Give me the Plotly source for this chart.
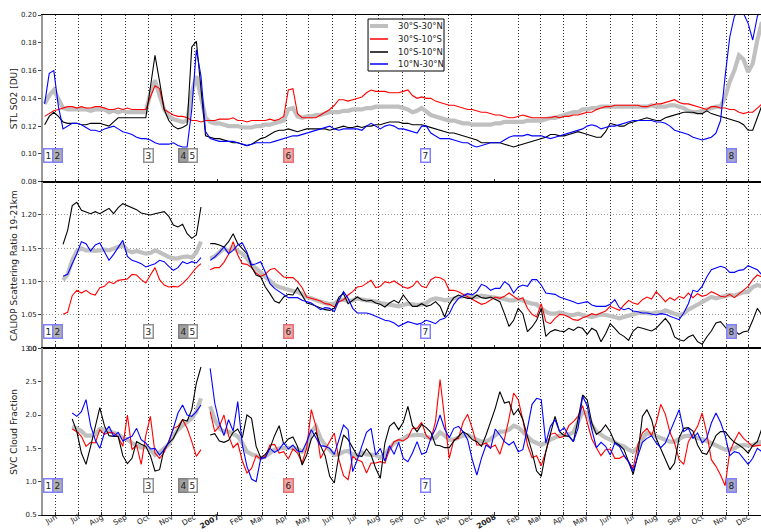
import pandas as pd
import plotly.graph_objects as go
from plotly.subplots import make_subplots

# Shared sampling dates (about 6-day steps) for every series
dates = pd.date_range("2006-05-11 09:15", periods=158, freq="8731min")

series_names = ["30°S-30°N", "30°S-10°S", "10°S-10°N", "10°N-30°N"]
series_colors = ["#c0c0c0", "#ff0000", "#000000", "#0000ff"]
series_widths = [4.2, 1.1, 1.1, 1.1]

# ---- STL SO2 [DU] ----
so2_all = [None, .136, .142, .146, .139, .133, .132, .132, .132, .132,
           .132, .131, .132, .132, .132, .130, .131, .130, .131, .130,
           .130, .130, .130, .130, .144, .153, .142, .132, .127, .125,
           .124, .123, .124, .144, .156, .141, .126, .123, .122, .122,
           .121, .120, .120, .120, .119, .119, .119, .120, .120, .121,
           .121, .122, .123, .124, .132, .133, .127, .126, .127, .127,
           .128, .128, .129, .130, .130, .130, .131, .131, .132, .132,
           .132, .133, .133, .134, .134, .134, .134, .134, .134, .133,
           .132, .130, .131, .133, .130, .128, .127, .126, .125, .124,
           .124, .123, .122, .122, .121, .121, .121, .121, .121, .122,
           .122, .123, .123, .123, .123, .123, .124, .124, .124, .124,
           .125, .126, .126, .127, .128, .129, .130, .130, .132, .132,
           .133, .133, .134, .134, .134, .134, .134, .134, .134, .134,
           .134, .134, .134, .135, .134, .134, .134, .135, .135, .134,
           .133, .131, .130, .130, .131, .132, .133, .134, .134, .141,
           .152, .160, .171, .168, .159, .165, .182, .195]
so2_south = [None, .127, .129, .131, .132, .133, .134, .134, .133, .134,
             .133, .133, .134, .134, .133, .132, .132, .133, .132, .133,
             .132, .132, .132, .132, .141, .149, .147, .132, .130, .128,
             .127, .127, .126, .124, .124, .123, .124, .124, .124, .125,
             .125, .125, .126, .124, .124, .123, .124, .124, .124, .124,
             .125, .124, .125, .127, .146, .147, .129, .126, .126, .126,
             .126, .128, .130, .132, .135, .139, .139, .138, .139, .140,
             .141, .144, .146, .145, .145, .145, .144, .144, .144, .145,
             .146, .142, .140, .141, .140, .140, .138, .137, .136, .135,
             .135, .134, .133, .132, .132, .131, .130, .130, .129, .128,
             .128, .127, .126, .126, .127, .128, .127, .126, .126, .126,
             .126, .126, .127, .126, .127, .127, .128, .128, .129, .130,
             .130, .132, .133, .134, .134, .135, .135, .135, .135, .135,
             .135, .134, .134, .135, .136, .136, .137, .138, .139, .137,
             .136, .136, .135, .134, .133, .132, .134, .134, .133, .133,
             .132, .132, .130, .129, .130, .130, .133, .136]
so2_equator = [None, .121, .127, .130, .127, .123, .122, .122, .122, .121,
               .121, .122, .122, .122, .121, .120, .123, .126, .126, .126,
               .126, .126, .126, .126, .148, .171, .152, .132, .124, .120,
               .118, .119, .121, .177, .181, .148, .113, .112, .111, .111,
               .110, .109, .108, .108, .107, .106, .107, .109, .111, .112,
               .114, .116, .117, .117, .118, .117, .116, .117, .118, .118,
               .118, .118, .118, .117, .118, .119, .120, .119, .119, .120,
               .119, .120, .120, .121, .121, .122, .123, .123, .123, .122,
               .122, .121, .121, .121, .120, .119, .118, .117, .116, .115,
               .115, .114, .113, .112, .111, .110, .108, .108, .108, .108,
               .108, .107, .106, .105, .106, .107, .108, .109, .110, .111,
               .112, .114, .114, .113, .113, .114, .115, .116, .115, .114,
               .113, .112, .112, .116, .122, .121, .120, .120, .122, .123,
               .124, .125, .126, .125, .124, .124, .126, .127, .128, .129,
               .130, .130, .130, .129, .129, .131, .129, .128, .127, .126,
               .125, .124, .123, .121, .117, .117, .126, .135]
so2_north = [None, .136, .158, .160, .134, .118, .120, .122, .122, .121,
             .119, .117, .117, .116, .118, .119, .120, .118, .116, .115,
             .114, .112, .111, .111, .110, .108, .107, .107, .107, .108,
             .106, .105, .105, .132, .175, .156, .116, .111, .110, .109,
             .109, .109, .109, .108, .107, .106, .107, .108, .108, .108,
             .108, .109, .110, .111, .112, .113, .113, .114, .115, .116,
             .117, .118, .119, .120, .118, .117, .118, .118, .118, .118,
             .117, .120, .122, .120, .118, .120, .121, .120, .118, .118,
             .117, .116, .115, .120, .120, .115, .113, .111, .111, .111,
             .110, .109, .108, .108, .106, .105, .106, .107, .108, .108,
             .108, .110, .112, .113, .113, .113, .114, .113, .113, .113,
             .112, .111, .112, .113, .114, .115, .116, .117, .118, .120,
             .121, .120, .118, .119, .120, .120, .121, .122, .123, .124,
             .124, .124, .124, .124, .123, .123, .122, .120, .117, .116,
             .115, .114, .112, .111, .110, .111, .112, .115, .124, .156,
             .184, .199, .204, .201, .194, .182, .199, .206]

# ---- CALIOP scattering ratio 19-21 km ----
sr_all = [None] * 5 + [1.102, 1.111, 1.132, 1.146, 1.150,
    1.147, 1.147, 1.146, 1.147, 1.148, 1.147, 1.150, 1.152, 1.155, 1.147,
    1.144, 1.146, 1.144, 1.142, 1.143, 1.147, 1.144, 1.140, 1.137, 1.135,
    1.135, 1.137, 1.138, 1.136, 1.144, 1.160, None, 1.135, 1.138, 1.144,
    1.150, 1.146, 1.152, 1.146, 1.142, 1.135, 1.125, 1.120, 1.114, 1.107,
    1.100, 1.095, 1.092, 1.090, 1.087, 1.086, 1.085, 1.081, 1.077, 1.075,
    1.072, 1.070, 1.068, 1.066, 1.067, 1.072, 1.073, 1.071, 1.072, 1.075,
    1.073, 1.072, 1.072, 1.070, 1.068, 1.067, 1.066, 1.065, 1.063, 1.065,
    1.067, 1.066, 1.065, 1.066, 1.068, 1.073, 1.075, 1.074, 1.072, 1.073,
    1.075, 1.077, 1.079, 1.080, 1.078, 1.077, 1.079, 1.078, 1.078, 1.077,
    1.076, 1.074, 1.072, 1.072, 1.074, 1.071, 1.069, 1.067, 1.066, 1.060,
    1.055, 1.052, 1.052, 1.054, 1.052, 1.050, 1.050, 1.052, 1.050, 1.048,
    1.047, 1.049, 1.051, 1.050, 1.049, 1.047, 1.045, 1.047, 1.049, 1.052,
    1.053, 1.054, 1.053, 1.052, 1.054, 1.054, 1.057, 1.054, 1.052, 1.050,
    1.052, 1.058, 1.062, 1.066, 1.070, 1.074, 1.077, 1.075, 1.077, 1.079,
    1.080, 1.079, 1.082, 1.084, 1.085, 1.092, 1.095, 1.093]
sr_south = [None] * 5 + [1.051, 1.054, 1.079, 1.087, 1.083,
    1.087, 1.082, 1.080, 1.091, 1.093, 1.100, 1.097, 1.102, 1.103, 1.104,
    1.111, 1.110, 1.103, 1.098, 1.110, 1.121, 1.103, 1.095, 1.092, 1.093,
    1.092, 1.097, 1.104, 1.112, 1.121, 1.127, None, 1.118, 1.121, 1.121,
    1.129, 1.141, 1.160, 1.140, 1.127, 1.126, 1.121, 1.113, 1.108, 1.111,
    1.118, 1.120, 1.113, 1.107, 1.106, 1.106, 1.100, 1.091, 1.077, 1.075,
    1.073, 1.071, 1.067, 1.066, 1.062, 1.070, 1.073, 1.080, 1.085, 1.092,
    1.093, 1.097, 1.102, 1.091, 1.093, 1.100, 1.098, 1.101, 1.097, 1.092,
    1.090, 1.093, 1.101, 1.093, 1.091, 1.103, 1.107, 1.106, 1.102, 1.087,
    1.087, 1.085, 1.081, 1.077, 1.073, 1.070, 1.066, 1.068, 1.073, 1.077,
    1.075, 1.078, 1.083, 1.078, 1.073, 1.076, 1.060, 1.051, 1.047, 1.067,
    1.040, 1.037, 1.045, 1.051, 1.050, 1.047, 1.043, 1.042, 1.046, 1.048,
    1.052, 1.050, 1.053, 1.056, 1.063, 1.060, 1.057, 1.065, 1.072, 1.068,
    1.066, 1.073, 1.077, 1.074, 1.085, 1.078, 1.070, 1.076, 1.072, 1.078,
    1.075, 1.083, 1.076, 1.082, 1.078, 1.080, 1.085, 1.082, 1.078, 1.077,
    1.081, 1.076, 1.082, 1.088, 1.093, 1.103, 1.110, 1.107]
sr_equator = [None] * 5 + [1.156, 1.177, 1.214, 1.219, 1.207,
    1.204, 1.202, 1.205, 1.202, 1.206, 1.210, 1.202, 1.211, 1.217, 1.214,
    1.212, 1.208, 1.203, 1.202, 1.200, 1.202, 1.203, 1.205, 1.198, 1.185,
    1.182, 1.186, 1.172, 1.165, 1.170, 1.212, None, 1.157, 1.157, 1.155,
    1.152, 1.160, 1.172, 1.157, 1.150, 1.142, 1.122, 1.110, 1.107, 1.092,
    1.082, 1.071, 1.068, 1.077, 1.081, 1.080, 1.091, 1.080, 1.068, 1.066,
    1.063, 1.060, 1.058, 1.057, 1.060, 1.077, 1.082, 1.067, 1.072, 1.077,
    1.073, 1.071, 1.072, 1.068, 1.066, 1.062, 1.068, 1.072, 1.068, 1.080,
    1.071, 1.063, 1.063, 1.067, 1.063, 1.065, 1.070, 1.063, 1.047, 1.066,
    1.076, 1.080, 1.077, 1.075, 1.075, 1.080, 1.076, 1.075, 1.077, 1.073,
    1.070, 1.052, 1.033, 1.042, 1.060, 1.052, 1.025, 1.032, 1.042, 1.060,
    1.018, 1.025, 1.028, 1.026, 1.025, 1.030, 1.027, 1.032, 1.030, 1.021,
    1.030, 1.026, 1.010, 1.022, 1.037, 1.030, 1.022, 1.018, 1.012, 1.026,
    1.032, 1.030, 1.028, 1.026, 1.030, 1.037, 1.045, 1.036, 1.017, 1.013,
    1.011, 1.017, 1.020, 1.010, 1.006, 1.017, 1.026, 1.038, 1.040, 1.032,
    1.023, 1.027, 1.021, 1.025, 1.026, 1.042, 1.060, 1.050]
sr_north = [None] * 5 + [1.108, 1.111, 1.127, 1.142, 1.160,
    1.157, 1.146, 1.155, 1.158, 1.144, 1.132, 1.141, 1.152, 1.162, 1.138,
    1.132, 1.130, 1.127, 1.122, 1.125, 1.127, 1.132, 1.130, 1.123, 1.117,
    1.121, 1.130, 1.127, 1.130, 1.128, 1.136, None, 1.132, 1.137, 1.144,
    1.152, 1.142, 1.147, 1.155, 1.158, 1.144, 1.125, 1.127, 1.130, 1.114,
    1.097, 1.090, 1.085, 1.080, 1.076, 1.076, 1.076, 1.072, 1.070, 1.068,
    1.063, 1.058, 1.061, 1.060, 1.055, 1.072, 1.085, 1.075, 1.060, 1.053,
    1.053, 1.053, 1.051, 1.048, 1.046, 1.042, 1.041, 1.038, 1.033, 1.036,
    1.040, 1.038, 1.036, 1.038, 1.042, 1.040, 1.037, 1.043, 1.045, 1.052,
    1.066, 1.075, 1.078, 1.082, 1.080, 1.085, 1.096, 1.093, 1.087, 1.090,
    1.090, 1.100, 1.095, 1.083, 1.092, 1.095, 1.093, 1.103, 1.103, 1.095,
    1.083, 1.082, 1.081, 1.077, 1.075, 1.073, 1.070, 1.067, 1.068, 1.070,
    1.065, 1.063, 1.063, 1.063, 1.066, 1.073, 1.061, 1.058, 1.060, 1.056,
    1.055, 1.053, 1.053, 1.052, 1.050, 1.052, 1.051, 1.048, 1.046, 1.043,
    1.053, 1.067, 1.087, 1.085, 1.093, 1.107, 1.118, 1.121, 1.123, 1.121,
    1.114, 1.114, 1.117, 1.118, 1.124, 1.121, 1.118, 1.110]

# ---- SVC cloud fraction ----
cf_all = [None] * 7 + [1.83, 1.80, 1.76,
    1.69, 1.69, 1.71, 1.79, 1.78, 1.76, 1.73, 1.71, 1.66, 1.63,
    1.58, 1.55, 1.51, 1.53, 1.48, 1.40, 1.44, 1.50, 1.56, 1.69,
    1.78, 1.84, 1.90, 1.95, 2.05, 2.25, None, 2.13, 1.93, 1.80,
    1.75, 1.75, 1.71, 1.68, 1.58, 1.45, 1.41, 1.39, 1.35, 1.38,
    1.43, 1.48, 1.50, 1.50, 1.50, 1.51, 1.49, 1.45, 1.50, 1.75,
    1.83, 1.65, 1.55, 1.48, 1.40, 1.41, 1.45, 1.46, 1.41, 1.39,
    1.44, 1.41, 1.40, 1.40, 1.36, 1.41, 1.50, 1.58, 1.61, 1.64,
    1.69, 1.70, 1.70, 1.70, 1.68, 1.65, 1.66, 1.74, 1.69, 1.63,
    1.63, 1.66, 1.69, 1.70, 1.66, 1.63, 1.60, 1.60, 1.64, 1.70,
    1.75, 1.75, 1.78, 1.84, 1.81, 1.75, 1.69, 1.61, 1.58, 1.55,
    1.58, 1.63, 1.66, 1.69, 1.70, 1.71, 1.74, 1.88, 2.05, 2.03,
    1.85, 1.75, 1.70, 1.66, 1.63, 1.59, 1.55, 1.53, 1.48, 1.45,
    1.51, 1.64, 1.73, 1.71, 1.68, 1.65, 1.63, 1.60, 1.60, 1.64,
    1.68, 1.69, 1.68, 1.65, 1.64, 1.61, 1.58, 1.55, 1.51, 1.48,
    1.48, 1.50, 1.54, 1.55, 1.54, 1.55, 1.58, 1.60]
cf_south = [None] * 7 + [1.79, 1.75, 1.68,
    1.53, 1.59, 1.58, 1.78, 1.71, 1.74, 1.73, 1.67, 1.53, 2.00,
    1.48, 1.55, 1.26, 1.69, 1.98, 1.43, 1.35, 1.44, 1.60, 1.80,
    1.83, 1.93, 1.80, 1.60, 1.38, 1.48, None, 2.05, 1.75, 1.83,
    2.00, 1.69, 1.51, 1.58, 1.31, 1.13, 1.20, 1.39, 1.34, 1.38,
    1.55, 1.56, 1.43, 1.45, 1.34, 1.49, 1.43, 1.28, 1.51, 2.08,
    1.83, 1.35, 1.48, 1.59, 1.73, 1.33, 1.09, 1.03, 1.38, 1.33,
    1.30, 1.13, 1.28, 1.28, 1.30, 1.28, 1.48, 1.60, 1.63, 1.61,
    1.66, 1.80, 1.80, 1.89, 1.69, 1.63, 1.90, 2.53, 1.90, 1.35,
    1.63, 1.65, 1.89, 2.01, 1.80, 1.55, 1.55, 1.58, 1.51, 1.55,
    1.41, 1.64, 1.95, 2.33, 2.23, 1.93, 1.55, 1.36, 1.39, 1.24,
    1.45, 1.71, 1.73, 1.66, 1.68, 1.84, 1.90, 1.98, 2.14, 1.88,
    1.64, 1.51, 1.39, 1.48, 1.49, 1.35, 1.35, 1.39, 1.29, 1.20,
    1.55, 1.73, 1.80, 1.69, 1.88, 2.16, 2.01, 1.74, 1.58, 1.33,
    1.26, 1.60, 1.71, 1.83, 2.03, 1.73, 1.33, 1.23, 1.10, 0.94,
    1.45, 1.61, 1.74, 1.65, 1.59, 1.53, 1.54, 1.55]
cf_equator = [None] * 7 + [1.94, 1.75, 1.43,
    1.26, 1.53, 1.80, 2.11, 1.84, 1.69, 1.68, 1.68, 1.39, 1.27,
    1.35, 1.60, 1.56, 1.53, 1.39, 1.16, 1.18, 1.49, 1.58, 1.65,
    1.79, 1.93, 1.91, 2.08, 2.48, 2.72, None, 1.70, 1.72, 1.61,
    1.59, 1.62, 1.74, 1.79, 1.66, 2.00, 1.95, 1.53, 1.36, 1.41,
    1.50, 1.69, 1.84, 1.56, 1.64, 1.67, 1.53, 1.25, 1.40, 1.64,
    1.74, 1.54, 1.39, 1.08, 0.98, 1.40, 1.70, 1.63, 1.52, 1.39,
    1.38, 1.49, 1.40, 1.20, 1.05, 1.58, 1.83, 1.89, 1.78, 1.89,
    2.13, 1.84, 1.75, 1.86, 1.81, 1.74, 1.55, 1.54, 1.51, 1.51,
    1.61, 1.68, 1.75, 1.71, 1.63, 1.60, 1.53, 1.70, 1.91, 2.10,
    2.35, 2.18, 2.20, 2.00, 2.09, 1.93, 1.68, 1.45, 1.16, 1.08,
    1.45, 1.71, 1.98, 1.75, 1.69, 1.68, 1.60, 1.93, 2.30, 2.23,
    1.88, 1.71, 1.76, 1.85, 1.75, 1.59, 1.55, 1.48, 1.28, 1.11,
    1.40, 1.98, 2.08, 1.93, 1.65, 1.49, 1.35, 1.18, 1.28, 1.66,
    1.80, 1.81, 1.76, 1.55, 1.43, 1.41, 1.54, 1.69, 1.75, 1.75,
    1.66, 1.59, 1.55, 1.50, 1.43, 1.54, 1.60, 1.80]
cf_north = [None] * 7 + [2.03, 1.98, 2.05,
    2.23, 1.84, 1.63, 1.50, 1.73, 1.83, 1.68, 1.74, 1.61, 1.65,
    1.68, 1.80, 1.63, 1.58, 1.49, 1.50, 1.40, 1.48, 1.60, 1.80,
    2.03, 2.15, 2.00, 1.98, 2.05, 2.15, None, 2.70, 2.18, 1.88,
    1.69, 1.93, 1.76, 2.20, 1.55, 1.23, 1.04, 1.00, 1.35, 1.36,
    1.50, 1.44, 1.48, 1.58, 1.49, 1.55, 1.46, 1.45, 1.60, 1.78,
    1.66, 1.54, 1.53, 1.50, 1.41, 1.65, 1.85, 1.78, 1.15, 1.33,
    1.55, 1.74, 1.80, 1.40, 1.50, 1.31, 1.54, 1.41, 1.59, 1.35,
    1.30, 1.43, 1.60, 1.41, 1.44, 1.65, 1.79, 2.00, 1.79, 1.66,
    1.80, 1.83, 1.75, 1.63, 1.33, 1.10, 1.35, 1.55, 1.50, 1.79,
    1.70, 1.60, 1.55, 1.60, 1.45, 1.48, 1.80, 2.16, 2.25, 2.23,
    1.58, 1.83, 1.93, 1.75, 1.81, 1.69, 1.60, 1.80, 2.28, 2.14,
    1.78, 1.51, 1.59, 1.53, 1.40, 1.58, 1.53, 1.39, 1.30, 1.16,
    1.38, 1.59, 1.65, 1.69, 1.58, 1.51, 1.58, 1.75, 1.93, 2.08,
    1.75, 1.80, 1.65, 1.73, 1.58, 1.65, 1.88, 2.03, 1.89, 1.69,
    1.39, 1.45, 1.43, 1.35, 1.26, 1.35, 1.50, 1.45]

# Volcanic event markers
event_labels = ["1", "2", "3", "4", "5", "6", "7", "8"]
event_dates = ["2006-05-23", "2006-06-04", "2006-10-01", "2006-11-16",
               "2006-11-29", "2007-04-04", "2007-10-02", "2008-11-08"]
event_fill = ["#ffffff", "#b0b0b0", "#ffffff", "#a0a0a0",
              "#ffffff", "#f0a8a8", "#ffffff", "#a8a8c8"]
event_edge = ["#8080ff", "#8080ff", "#909090", "#808080",
              "#909090", "#e87070", "#8080ff", "#8080ff"]

# Axis settings
so2_ticks = [0.08, 0.10, 0.12, 0.14, 0.16, 0.18, 0.20]
sr_ticks = [1.00, 1.05, 1.10, 1.15, 1.20]
cf_ticks = [0.5, 1.0, 1.5, 2.0, 2.5, 3.0]
month_ticks = pd.date_range("2006-06-01", "2008-12-01", freq="MS")
month_text = [f"<b>{m.year}</b>" if m.month == 1 else m.strftime("%b") for m in month_ticks]
grid_months = [m for m in month_ticks if m.month != 1]

panels = [
    (1, [so2_all, so2_south, so2_equator, so2_north], "STL SO2 [DU]", [0.08, 0.20], so2_ticks, ".2f", False, 0.111),
    (2, [sr_all, sr_south, sr_equator, sr_north], "CALIOP Scattering Ratio 19-21km", [1.0, 1.25], sr_ticks, ".2f", True, 0.056),
    (3, [cf_all, cf_south, cf_equator, cf_north], "SVC Cloud Fraction", [0.5, 3.0], cf_ticks, ".1f", False, 0.134),
]

fig = make_subplots(rows=3, cols=1, shared_xaxes=True, vertical_spacing=0)

font_family = "DejaVu Sans"
dot_style = "1px,2px"
annotations = []
shapes = []
for row, group, title, yrange, yticks, yfmt, ygrid, box_y in panels:
    for name, color, width, values in zip(series_names, series_colors, series_widths, group):
        assert len(values) == len(dates)
        fig.add_trace(
            go.Scatter(x=dates, y=values, mode="lines", name=name,
                       line=dict(color=color, width=width), showlegend=False),
            row=row, col=1)
    fig.update_yaxes(
        range=yrange, tickmode="array", tickvals=yticks, tickformat=yfmt,
        ticks="outside", ticklen=3, tickcolor="#444",
        tickfont=dict(size=7, color="#222", family=font_family),
        showline=True, linecolor="#999999", linewidth=2, zeroline=False,
        showgrid=ygrid, gridcolor="#999999", griddash=dot_style, gridwidth=1,
        row=row, col=1)
    suffix = "" if row == 1 else str(row)
    # y-axis title, centred on its panel
    annotations.append(dict(
        x=-0.0404, y=0.5, xref="paper", yref=f"y{suffix} domain",
        xanchor="center", yanchor="middle",
        text=title, textangle=-90, showarrow=False,
        font=dict(size=9, color="#222", family=font_family)))
    for lab, d, fill, edge in zip(event_labels, event_dates, event_fill, event_edge):
        annotations.append(dict(
            x=d, y=box_y, xref="x" + suffix, yref=f"y{suffix} domain",
            text=lab, showarrow=False, bgcolor=fill, bordercolor=edge,
            borderwidth=1.5, borderpad=1,
            font=dict(size=9, color="#222", family=font_family)))

# Legend box inside the SO2 panel
leg_x0, leg_x1, leg_y0, leg_y1 = 0.4527, 0.5585, 0.888, 0.992
leg_rows = [0.978, 0.952, 0.926, 0.902]
shapes.append(dict(type="rect", xref="paper", yref="paper",
                   x0=leg_x0, x1=leg_x1, y0=leg_y0, y1=leg_y1,
                   line=dict(color="#000000", width=1), fillcolor="white", layer="above"))
for name, color, width, ly in zip(series_names, series_colors, series_widths, leg_rows):
    shapes.append(dict(type="line", xref="paper", yref="paper",
                       x0=leg_x0 + 0.0027, x1=leg_x0 + 0.0278, y0=ly, y1=ly,
                       line=dict(color=color, width=min(width + 0.4, 4)), layer="above"))
    annotations.append(dict(x=leg_x0 + 0.0390, y=ly, xref="paper", yref="paper",
                            xanchor="left", yanchor="middle", text=name, showarrow=False,
                            font=dict(size=8.5, color="#222", family=font_family)))

fig.update_xaxes(
    type="date", range=["2006-05-15 07:00", "2008-12-17 02:00"],
    tickmode="array", tickvals=month_ticks, ticktext=month_text,
    ticks="inside", ticklen=3, tickcolor="#333", tickangle=-30,
    ticklabelstandoff=-6,
    tickfont=dict(size=7.5, color="#222", family=font_family),
    showgrid=False, showline=True, linecolor="#000000", linewidth=1, mirror=True,
    minor=dict(tickmode="array", tickvals=grid_months, showgrid=True,
               gridcolor="#333333", griddash=dot_style, gridwidth=1, ticks=""),
)
fig.update_xaxes(showticklabels=False, row=1, col=1)
fig.update_xaxes(showticklabels=False, row=2, col=1)

fig.update_layout(
    template="none",
    width=761, height=532,
    margin=dict(l=43, r=0, t=15, b=17, autoexpand=False),
    paper_bgcolor="white", plot_bgcolor="white",
    font=dict(family=font_family, color="#222"),
    annotations=annotations, shapes=shapes,
    showlegend=False,
)

fig.write_html("out.html")
